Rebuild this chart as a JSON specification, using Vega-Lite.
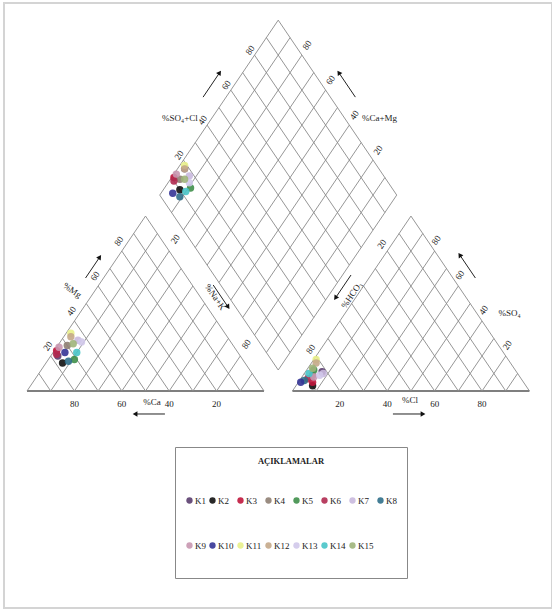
{
  "$schema": "https://vega.github.io/schema/vega-lite/v6.json",
  "width": 552,
  "height": 609,
  "autosize": {"type": "fit", "contains": "padding"},
  "padding": {"left": 4, "top": 3, "right": 0, "bottom": 1},
  "background": "white",
  "config": {"view": {"stroke": "#d4d4d4", "strokeWidth": 2}},
  "datasets": {
    "grid": [
      {"panel": "cat", "fam": "B", "v": 0},
      {"panel": "cat", "fam": "T", "v": 0}, {"panel": "cat", "fam": "T", "v": 10}, {"panel": "cat", "fam": "T", "v": 20}, {"panel": "cat", "fam": "T", "v": 30}, {"panel": "cat", "fam": "T", "v": 40}, {"panel": "cat", "fam": "T", "v": 50}, {"panel": "cat", "fam": "T", "v": 60}, {"panel": "cat", "fam": "T", "v": 70}, {"panel": "cat", "fam": "T", "v": 80}, {"panel": "cat", "fam": "T", "v": 90},
      {"panel": "cat", "fam": "P", "v": 0}, {"panel": "cat", "fam": "P", "v": 10}, {"panel": "cat", "fam": "P", "v": 20}, {"panel": "cat", "fam": "P", "v": 30}, {"panel": "cat", "fam": "P", "v": 40}, {"panel": "cat", "fam": "P", "v": 50}, {"panel": "cat", "fam": "P", "v": 60}, {"panel": "cat", "fam": "P", "v": 70}, {"panel": "cat", "fam": "P", "v": 80}, {"panel": "cat", "fam": "P", "v": 90},
      {"panel": "an", "fam": "B", "v": 0},
      {"panel": "an", "fam": "T", "v": 0}, {"panel": "an", "fam": "T", "v": 10}, {"panel": "an", "fam": "T", "v": 20}, {"panel": "an", "fam": "T", "v": 30}, {"panel": "an", "fam": "T", "v": 40}, {"panel": "an", "fam": "T", "v": 50}, {"panel": "an", "fam": "T", "v": 60}, {"panel": "an", "fam": "T", "v": 70}, {"panel": "an", "fam": "T", "v": 80}, {"panel": "an", "fam": "T", "v": 90},
      {"panel": "an", "fam": "P", "v": 0}, {"panel": "an", "fam": "P", "v": 10}, {"panel": "an", "fam": "P", "v": 20}, {"panel": "an", "fam": "P", "v": 30}, {"panel": "an", "fam": "P", "v": 40}, {"panel": "an", "fam": "P", "v": 50}, {"panel": "an", "fam": "P", "v": 60}, {"panel": "an", "fam": "P", "v": 70}, {"panel": "an", "fam": "P", "v": 80}, {"panel": "an", "fam": "P", "v": 90},
      {"panel": "dia", "fam": "PD", "v": 0}, {"panel": "dia", "fam": "PD", "v": 10}, {"panel": "dia", "fam": "PD", "v": 20}, {"panel": "dia", "fam": "PD", "v": 30}, {"panel": "dia", "fam": "PD", "v": 40}, {"panel": "dia", "fam": "PD", "v": 50}, {"panel": "dia", "fam": "PD", "v": 60}, {"panel": "dia", "fam": "PD", "v": 70}, {"panel": "dia", "fam": "PD", "v": 80}, {"panel": "dia", "fam": "PD", "v": 90}, {"panel": "dia", "fam": "PD", "v": 100},
      {"panel": "dia", "fam": "QD", "v": 0}, {"panel": "dia", "fam": "QD", "v": 10}, {"panel": "dia", "fam": "QD", "v": 20}, {"panel": "dia", "fam": "QD", "v": 30}, {"panel": "dia", "fam": "QD", "v": 40}, {"panel": "dia", "fam": "QD", "v": 50}, {"panel": "dia", "fam": "QD", "v": 60}, {"panel": "dia", "fam": "QD", "v": 70}, {"panel": "dia", "fam": "QD", "v": 80}, {"panel": "dia", "fam": "QD", "v": 90}, {"panel": "dia", "fam": "QD", "v": 100}
    ],
    "ticks": [
      {"edge": "Ca", "v": 20}, {"edge": "Ca", "v": 40}, {"edge": "Ca", "v": 60}, {"edge": "Ca", "v": 80},
      {"edge": "Mg", "v": 20}, {"edge": "Mg", "v": 40}, {"edge": "Mg", "v": 60}, {"edge": "Mg", "v": 80},
      {"edge": "NaK", "v": 20}, {"edge": "NaK", "v": 80},
      {"edge": "Cl", "v": 20}, {"edge": "Cl", "v": 40}, {"edge": "Cl", "v": 60}, {"edge": "Cl", "v": 80},
      {"edge": "SO4", "v": 20}, {"edge": "SO4", "v": 40}, {"edge": "SO4", "v": 60}, {"edge": "SO4", "v": 80},
      {"edge": "HCO3", "v": 20}, {"edge": "HCO3", "v": 80},
      {"edge": "SC", "v": 20}, {"edge": "SC", "v": 40}, {"edge": "SC", "v": 60}, {"edge": "SC", "v": 80},
      {"edge": "CM", "v": 20}, {"edge": "CM", "v": 40}, {"edge": "CM", "v": 60}, {"edge": "CM", "v": 80}
    ],
    "titles": [
      {"edge": "Ca", "v": 47.3, "text": "%Ca"},
      {"edge": "Cl", "v": 49.6, "text": "%Cl"},
      {"edge": "Mg", "v": 57.7, "text": "%Mg"},
      {"edge": "NaK", "v": 46.3, "text": "%Na+K"},
      {"edge": "HCO3", "v": 45.1, "text": "%HCO₃"},
      {"edge": "SO4", "v": 44.6, "text": "%SO₄"},
      {"edge": "SC", "v": 44, "text": "%SO₄+Cl"},
      {"edge": "CM", "v": 44, "text": "%Ca+Mg"}
    ],
    "arrows": [
      {"edge": "Ca", "v": 41.8, "v2": 54.4},
      {"edge": "Cl", "v": 42.4, "v2": 55.1},
      {"edge": "Mg", "v": 64.6, "v2": 76.6},
      {"edge": "NaK", "v": 39.4, "v2": 52},
      {"edge": "HCO3", "v": 33.7, "v2": 46.8},
      {"edge": "SO4", "v": 64.6, "v2": 77.8},
      {"edge": "SC", "v": 56, "v2": 70},
      {"edge": "CM", "v": 56, "v2": 70}
    ],
    "samples": [
      {"id": "K1", "Ca": 77, "Mg": 20, "NaK": 3, "HCO3": 82, "SO4": 11, "Cl": 7},
      {"id": "K2", "Ca": 77, "Mg": 16, "NaK": 7, "HCO3": 90, "SO4": 3, "Cl": 7},
      {"id": "K3", "Ca": 76, "Mg": 23, "NaK": 1, "HCO3": 89, "SO4": 5, "Cl": 6},
      {"id": "K4", "Ca": 70, "Mg": 26, "NaK": 4, "HCO3": 87, "SO4": 9, "Cl": 4},
      {"id": "K5", "Ca": 71, "Mg": 18, "NaK": 11, "HCO3": 85, "SO4": 12, "Cl": 3},
      {"id": "K6", "Ca": 77, "Mg": 21, "NaK": 2, "HCO3": 90, "SO4": 7, "Cl": 3},
      {"id": "K7", "Ca": 64, "Mg": 29, "NaK": 7, "HCO3": 82, "SO4": 10, "Cl": 8},
      {"id": "K8", "Ca": 74, "Mg": 17, "NaK": 9, "HCO3": 92, "SO4": 6, "Cl": 2},
      {"id": "K9", "Ca": 74, "Mg": 25, "NaK": 1, "HCO3": 87, "SO4": 8, "Cl": 5},
      {"id": "K10", "Ca": 73, "Mg": 22, "NaK": 5, "HCO3": 94, "SO4": 5, "Cl": 1},
      {"id": "K11", "Ca": 65, "Mg": 33, "NaK": 2, "HCO3": 81, "SO4": 18, "Cl": 1},
      {"id": "K12", "Ca": 66, "Mg": 31, "NaK": 3, "HCO3": 82, "SO4": 16, "Cl": 2},
      {"id": "K13", "Ca": 63, "Mg": 28, "NaK": 9, "HCO3": 84, "SO4": 9, "Cl": 7},
      {"id": "K14", "Ca": 68, "Mg": 22, "NaK": 10, "HCO3": 88, "SO4": 10, "Cl": 2},
      {"id": "K15", "Ca": 67, "Mg": 27, "NaK": 6, "HCO3": 85, "SO4": 13, "Cl": 2}
    ]
  },
  "layer": [
    {
      "data": {"name": "grid"},
      "transform": [
        {"calculate": "datum.fam=='T' ? 100-datum.v : (datum.fam=='P'||datum.fam=='PD') ? datum.v : 0", "as": "p1"},
        {"calculate": "datum.fam=='QD' ? datum.v : 0", "as": "q1"},
        {"calculate": "datum.fam=='T' ? 0 : (datum.fam=='P'||datum.fam=='PD') ? datum.v : 100", "as": "p2"},
        {"calculate": "(datum.fam=='T'||datum.fam=='P') ? 100-datum.v : datum.fam=='PD' ? 100 : datum.fam=='QD' ? datum.v : 0", "as": "q2"},
        {"calculate": "datum.panel=='cat' ? 0 : datum.panel=='an' ? 112 : 106", "as": "ox"},
        {"calculate": "datum.panel=='dia' ? 10.392 : 0", "as": "oy"},
        {"calculate": "datum.panel=='dia' ? 0.5 : 1", "as": "ux"},
        {"calculate": "datum.panel=='dia' ? 0.866 : 0", "as": "uy"},
        {"calculate": "datum.panel=='dia' ? -0.5 : 0.5", "as": "vx"},
        {"calculate": "datum.ox + datum.p1*datum.ux + datum.q1*datum.vx", "as": "gx1"},
        {"calculate": "datum.oy + datum.p1*datum.uy + datum.q1*0.866", "as": "gy1"},
        {"calculate": "datum.ox + datum.p2*datum.ux + datum.q2*datum.vx", "as": "gx2"},
        {"calculate": "datum.oy + datum.p2*datum.uy + datum.q2*0.866", "as": "gy2"}
      ],
      "mark": {"type": "rule"},
      "encoding": {
        "x": {"field": "gx1", "type": "quantitative", "scale": {"domain": [-9.705, 221.519], "nice": false, "zero": false}, "axis": null},
        "y": {"field": "gy1", "type": "quantitative", "scale": {"domain": [-107.426, 192.079], "nice": false, "zero": false}, "axis": null},
        "x2": {"field": "gx2"},
        "y2": {"field": "gy2"},
        "color": {"condition": {"test": "datum.fam=='B'", "value": "#555555"}, "value": "#8a8a8a"},
        "strokeWidth": {"condition": {"test": "datum.fam=='B'", "value": 1.4}, "value": 0.9}
      }
    },
    {
      "data": {"name": "ticks"},
      "transform": [
        {"calculate": "datum.edge=='Ca' ? 100-datum.v : datum.edge=='Mg' ? datum.v/2 : datum.edge=='NaK' ? 50+datum.v/2 : datum.edge=='Cl' ? 112+datum.v : datum.edge=='SO4' ? 212-datum.v/2 : datum.edge=='HCO3' ? 162-datum.v/2 : datum.edge=='SC' ? 56+datum.v/2 : 156-datum.v/2", "as": "ex"},
        {"calculate": "(datum.edge=='Ca'||datum.edge=='Cl') ? 0 : (datum.edge=='Mg'||datum.edge=='SO4') ? 0.866*datum.v : (datum.edge=='NaK'||datum.edge=='HCO3') ? 0.866*(100-datum.v) : 10.392+0.866*(100+datum.v)", "as": "ey"},
        {"calculate": "{'Ca':0,'Cl':0,'Mg':-3,'NaK':6,'SO4':1.5,'HCO3':-5.5,'SC':-4.5,'CM':5}[datum.edge]", "as": "dx"},
        {"calculate": "{'Ca':13,'Cl':13,'Mg':-10,'NaK':-12,'SO4':-11,'HCO3':-7,'SC':-5,'CM':-10}[datum.edge]", "as": "dy"},
        {"calculate": "datum.ex + datum.dx/2.37", "as": "tx"},
        {"calculate": "datum.ey - datum.dy/2.02", "as": "ty"},
        {"calculate": "(datum.edge=='Ca'||datum.edge=='Cl') ? 0 : -56", "as": "ang"}
      ],
      "mark": {"type": "text", "font": "Liberation Serif", "fontSize": 9, "color": "#222222", "baseline": "middle", "align": "center"},
      "encoding": {
        "x": {"field": "tx", "type": "quantitative", "scale": {"domain": [-9.705, 221.519], "nice": false, "zero": false}, "axis": null},
        "y": {"field": "ty", "type": "quantitative", "scale": {"domain": [-107.426, 192.079], "nice": false, "zero": false}, "axis": null},
        "text": {"field": "v", "type": "quantitative"},
        "angle": {"field": "ang", "type": "quantitative", "scale": null}
      }
    },
    {
      "data": {"name": "titles"},
      "transform": [
        {"calculate": "datum.edge=='Ca' ? 100-datum.v : datum.edge=='Mg' ? datum.v/2 : datum.edge=='NaK' ? 50+datum.v/2 : datum.edge=='Cl' ? 112+datum.v : datum.edge=='SO4' ? 212-datum.v/2 : datum.edge=='HCO3' ? 162-datum.v/2 : datum.edge=='SC' ? 56+datum.v/2 : 156-datum.v/2", "as": "ex"},
        {"calculate": "(datum.edge=='Ca'||datum.edge=='Cl') ? 0 : (datum.edge=='Mg'||datum.edge=='SO4') ? 0.866*datum.v : (datum.edge=='NaK'||datum.edge=='HCO3') ? 0.866*(100-datum.v) : 10.392+0.866*(100+datum.v)", "as": "ey"},
        {"calculate": "{'Ca':0,'Cl':0,'Mg':-23,'NaK':15,'SO4':33,'HCO3':-6,'SC':-32,'CM':35}[datum.edge]", "as": "dx"},
        {"calculate": "{'Ca':11,'Cl':9,'Mg':0,'NaK':0,'SO4':0,'HCO3':0,'SC':0,'CM':0}[datum.edge]", "as": "dy"},
        {"calculate": "datum.ex + datum.dx/2.37", "as": "tx"},
        {"calculate": "datum.ey - datum.dy/2.02", "as": "ty"},
        {"calculate": "{'Ca':0,'Cl':0,'Mg':34,'NaK':56,'SO4':0,'HCO3':-56,'SC':0,'CM':0}[datum.edge]", "as": "ang"}
      ],
      "mark": {"type": "text", "font": "Liberation Serif", "fontSize": 9, "color": "#222222", "baseline": "middle", "align": "center"},
      "encoding": {
        "x": {"field": "tx", "type": "quantitative", "scale": {"domain": [-9.705, 221.519], "nice": false, "zero": false}, "axis": null},
        "y": {"field": "ty", "type": "quantitative", "scale": {"domain": [-107.426, 192.079], "nice": false, "zero": false}, "axis": null},
        "text": {"field": "text", "type": "nominal"},
        "angle": {"field": "ang", "type": "quantitative", "scale": null}
      }
    },
    {
      "data": {"name": "arrows"},
      "transform": [
        {"calculate": "datum.edge=='Ca' ? 100-datum.v : datum.edge=='Mg' ? datum.v/2 : datum.edge=='NaK' ? 50+datum.v/2 : datum.edge=='Cl' ? 112+datum.v : datum.edge=='SO4' ? 212-datum.v/2 : datum.edge=='HCO3' ? 162-datum.v/2 : datum.edge=='SC' ? 56+datum.v/2 : 156-datum.v/2", "as": "ex"},
        {"calculate": "(datum.edge=='Ca'||datum.edge=='Cl') ? 0 : (datum.edge=='Mg'||datum.edge=='SO4') ? 0.866*datum.v : (datum.edge=='NaK'||datum.edge=='HCO3') ? 0.866*(100-datum.v) : 10.392+0.866*(100+datum.v)", "as": "ey"},
        {"calculate": "datum.edge=='Ca' ? 100-datum.v2 : datum.edge=='Mg' ? datum.v2/2 : datum.edge=='NaK' ? 50+datum.v2/2 : datum.edge=='Cl' ? 112+datum.v2 : datum.edge=='SO4' ? 212-datum.v2/2 : datum.edge=='HCO3' ? 162-datum.v2/2 : datum.edge=='SC' ? 56+datum.v2/2 : 156-datum.v2/2", "as": "ex2"},
        {"calculate": "(datum.edge=='Ca'||datum.edge=='Cl') ? 0 : (datum.edge=='Mg'||datum.edge=='SO4') ? 0.866*datum.v2 : (datum.edge=='NaK'||datum.edge=='HCO3') ? 0.866*(100-datum.v2) : 10.392+0.866*(100+datum.v2)", "as": "ey2"},
        {"calculate": "{'Ca':0,'Cl':0,'Mg':-18,'NaK':21,'SO4':22.5,'HCO3':-20,'SC':-23,'CM':25}[datum.edge]", "as": "dx"},
        {"calculate": "{'Ca':23,'Cl':23,'Mg':0,'NaK':0,'SO4':0,'HCO3':0,'SC':0,'CM':0}[datum.edge]", "as": "dy"},
        {"calculate": "datum.ex + datum.dx/2.37", "as": "ax1"},
        {"calculate": "datum.ey - datum.dy/2.02", "as": "ay1"},
        {"calculate": "datum.ex2 + datum.dx/2.37", "as": "ax2"},
        {"calculate": "datum.ey2 - datum.dy/2.02", "as": "ay2"},
        {"calculate": "{'Ca':-90,'Cl':90,'Mg':34,'NaK':146,'SO4':-34,'HCO3':-146,'SC':34,'CM':-34}[datum.edge]", "as": "ang"}
      ],
      "layer": [
        {
          "mark": {"type": "rule", "color": "#222222", "strokeWidth": 1},
          "encoding": {
            "x": {"field": "ax1", "type": "quantitative", "scale": {"domain": [-9.705, 221.519], "nice": false, "zero": false}, "axis": null},
            "y": {"field": "ay1", "type": "quantitative", "scale": {"domain": [-107.426, 192.079], "nice": false, "zero": false}, "axis": null},
            "x2": {"field": "ax2"},
            "y2": {"field": "ay2"}
          }
        },
        {
          "mark": {"type": "point", "shape": "triangle-up", "filled": true, "color": "#111111", "size": 30, "opacity": 1},
          "encoding": {
            "x": {"field": "ax2", "type": "quantitative", "scale": {"domain": [-9.705, 221.519], "nice": false, "zero": false}, "axis": null},
            "y": {"field": "ay2", "type": "quantitative", "scale": {"domain": [-107.426, 192.079], "nice": false, "zero": false}, "axis": null},
            "angle": {"field": "ang", "type": "quantitative", "scale": null}
          }
        }
      ]
    },
    {
      "data": {"name": "samples"},
      "transform": [
        {"calculate": "datum.NaK + datum.Mg/2", "as": "px"},
        {"calculate": "0.866*datum.Mg", "as": "py"}
      ],
      "mark": {"type": "point", "shape": "circle", "filled": true, "size": 55, "opacity": 0.9},
      "encoding": {
        "x": {"field": "px", "type": "quantitative", "scale": {"domain": [-9.705, 221.519], "nice": false, "zero": false}, "axis": null},
        "y": {"field": "py", "type": "quantitative", "scale": {"domain": [-107.426, 192.079], "nice": false, "zero": false}, "axis": null},
        "color": {
          "field": "id", "type": "nominal",
          "scale": {
            "domain": ["K1", "K2", "K3", "K4", "K5", "K6", "K7", "K8", "K9", "K10", "K11", "K12", "K13", "K14", "K15"],
            "range": ["#5a3d6e", "#111111", "#c0163c", "#8f7f73", "#3f8f4a", "#b02a50", "#c9b9de", "#2f6f8a", "#c897b0", "#343496", "#e8f08a", "#c4a98a", "#d0c8ea", "#48c4c8", "#9eb47a"]
          },
          "legend": {
            "orient": "none", "legendX": 171, "legendY": 444,
            "title": "AÇIKLAMALAR", "columns": 8, "direction": "horizontal",
            "strokeColor": "#888888", "fillColor": "white", "padding": 10,
            "titleAnchor": "middle", "titleFont": "Liberation Serif", "titleFontSize": 8.5, "titleFontWeight": "bold", "titleColor": "#222222", "titlePadding": 12.5,
            "labelFont": "Liberation Serif", "labelFontSize": 9, "labelColor": "#222222", "labelOffset": 1,
            "symbolType": "circle", "symbolSize": 40, "symbolStrokeWidth": 0,
            "columnPadding": 2, "rowPadding": 0, "clipHeight": 45
          }
        }
      }
    },
    {
      "data": {"name": "samples"},
      "transform": [
        {"calculate": "112 + datum.Cl + datum.SO4/2", "as": "px"},
        {"calculate": "0.866*datum.SO4", "as": "py"}
      ],
      "mark": {"type": "point", "shape": "circle", "filled": true, "size": 55, "opacity": 0.9},
      "encoding": {
        "x": {"field": "px", "type": "quantitative", "scale": {"domain": [-9.705, 221.519], "nice": false, "zero": false}, "axis": null},
        "y": {"field": "py", "type": "quantitative", "scale": {"domain": [-107.426, 192.079], "nice": false, "zero": false}, "axis": null},
        "color": {"field": "id", "type": "nominal"}
      }
    },
    {
      "data": {"name": "samples"},
      "transform": [
        {"calculate": "100 - datum.NaK", "as": "c"},
        {"calculate": "datum.SO4 + datum.Cl", "as": "s"},
        {"calculate": "106 + 0.5*datum.s - 0.5*datum.c", "as": "px"},
        {"calculate": "10.392 + 0.866*(datum.s + datum.c)", "as": "py"}
      ],
      "mark": {"type": "point", "shape": "circle", "filled": true, "size": 55, "opacity": 0.9},
      "encoding": {
        "x": {"field": "px", "type": "quantitative", "scale": {"domain": [-9.705, 221.519], "nice": false, "zero": false}, "axis": null},
        "y": {"field": "py", "type": "quantitative", "scale": {"domain": [-107.426, 192.079], "nice": false, "zero": false}, "axis": null},
        "color": {"field": "id", "type": "nominal"}
      }
    }
  ]
}
